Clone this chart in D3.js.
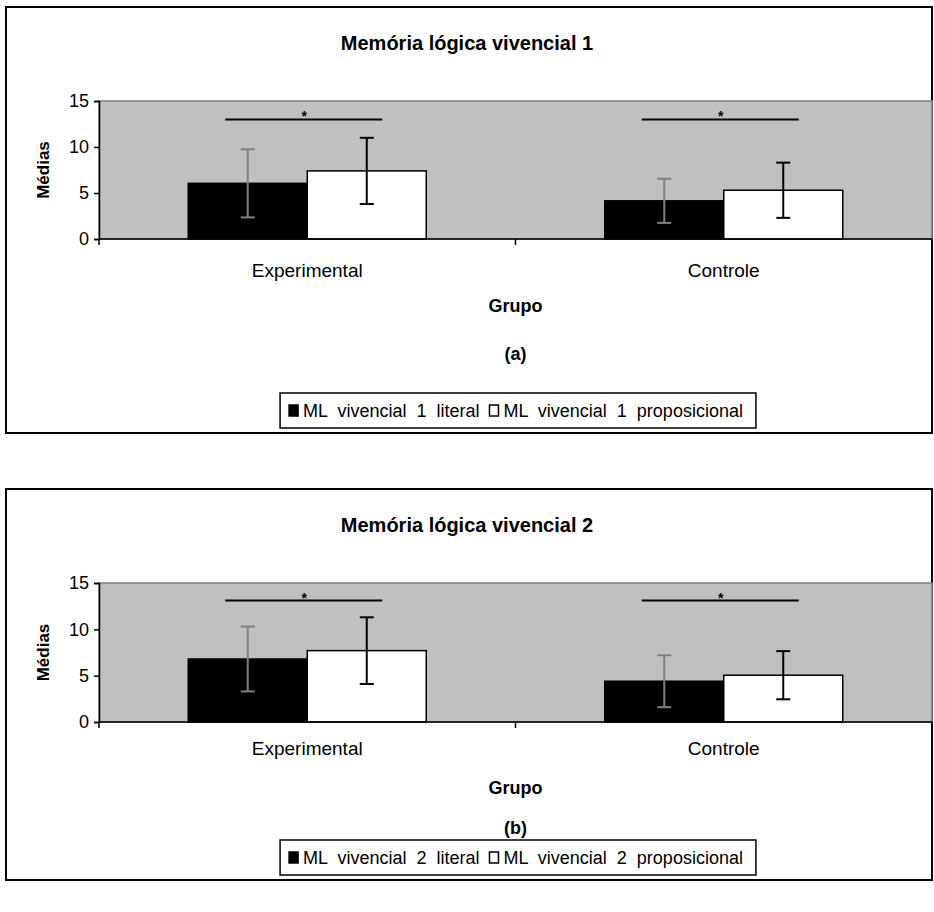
<!DOCTYPE html>
<html>
<head>
<meta charset="utf-8">
<script src="https://cdn.jsdelivr.net/npm/d3@7"></script>
<style>
  html, body { margin: 0; padding: 0; background: #fff; }
  svg { display: block; font-family: "Liberation Sans", Arial, sans-serif; }
</style>
</head>
<body>
<svg id="chart" width="934" height="912"></svg>
<script>
// Group categories and y-axis ticks shared by both panels
const categories = ["Experimental", "Controle"];
const yTicks = [0, 5, 10, 15];

// Panel (a): Memória lógica vivencial 1
const literal1 = [6.05, 4.15];
const literal1Sd = [3.7, 2.4];
const propos1 = [7.4, 5.3];
const propos1Sd = [3.6, 3.0];
const sig1 = [13, 13];

// Panel (b): Memória lógica vivencial 2
const literal2 = [6.8, 4.4];
const literal2Sd = [3.5, 2.8];
const propos2 = [7.7, 5.05];
const propos2Sd = [3.6, 2.6];
const sig2 = [13.1, 13.1];

const panels = [
  {
    title: "Memória lógica vivencial 1", tag: "(a)",
    names: ["ML vivencial 1 literal", "ML vivencial 1 proposicional"],
    values: [literal1, propos1], sds: [literal1Sd, propos1Sd], sig: sig1,
    box: [7, 433], plot: [101, 239], titleY: 50, tickY: 277, axisY: 312, tagY: 360, legY: 393
  },
  {
    title: "Memória lógica vivencial 2", tag: "(b)",
    names: ["ML vivencial 2 literal", "ML vivencial 2 proposicional"],
    values: [literal2, propos2], sds: [literal2Sd, propos2Sd], sig: sig2,
    box: [489, 880], plot: [583, 722], titleY: 532, tickY: 755, axisY: 794, tagY: 834, legY: 840
  }
];

const svg = d3.select("#chart");
const left = 99, right = 932;
const fills = ["#000000", "#ffffff"];
const errColors = ["#808080", "#000000"];

panels.forEach(p => {
  const g = svg.append("g");

  // outer frame
  g.append("rect")
    .attr("x", 6).attr("y", p.box[0])
    .attr("width", right - 6).attr("height", p.box[1] - p.box[0])
    .attr("fill", "#fff").attr("stroke", "#000").attr("stroke-width", 2);

  const x0 = d3.scaleBand().domain(categories).range([left, right]).padding(0);
  const bw = x0.bandwidth();
  const gap = bw * 1.5 / 3.5 / 2;
  const x1 = d3.scaleBand().domain([0, 1]).range([gap, bw - gap]).padding(0);
  const y = d3.scaleLinear().domain([0, 15]).range([p.plot[1], p.plot[0]]);

  // plot area
  g.append("rect")
    .attr("x", left).attr("y", y(15))
    .attr("width", right - left).attr("height", y(0) - y(15))
    .attr("fill", "#c0c0c0").attr("stroke", "#808080").attr("stroke-width", 1.5);

  // title
  g.append("text")
    .attr("x", 467).attr("y", p.titleY)
    .attr("text-anchor", "middle")
    .attr("font-size", 20).attr("font-weight", "bold")
    .text(p.title);

  // bars
  p.values.forEach((vals, s) => {
    g.selectAll(null).data(categories).enter().append("rect")
      .attr("x", c => x0(c) + x1(s))
      .attr("y", (c, i) => y(vals[i]))
      .attr("width", x1.bandwidth())
      .attr("height", (c, i) => y(0) - y(vals[i]))
      .attr("fill", fills[s]).attr("stroke", "#000").attr("stroke-width", 1.5);
  });

  // error bars
  p.values.forEach((vals, s) => {
    categories.forEach((c, i) => {
      const cx = x0(c) + x1(s) + x1.bandwidth() / 2;
      const lo = y(vals[i] - p.sds[s][i]);
      const hi = y(vals[i] + p.sds[s][i]);
      const eg = g.append("g").attr("stroke", errColors[s]).attr("stroke-width", 2);
      eg.append("line").attr("x1", cx).attr("x2", cx).attr("y1", lo).attr("y2", hi);
      eg.append("line").attr("x1", cx - 7).attr("x2", cx + 7).attr("y1", lo).attr("y2", lo);
      eg.append("line").attr("x1", cx - 7).attr("x2", cx + 7).attr("y1", hi).attr("y2", hi);
    });
  });

  // significance lines
  categories.forEach((c, i) => {
    const cx = x0(c) + bw / 2;
    g.append("line")
      .attr("x1", cx - 82).attr("x2", cx + 75)
      .attr("y1", y(p.sig[i])).attr("y2", y(p.sig[i]))
      .attr("stroke", "#000").attr("stroke-width", 2);
    g.append("text")
      .attr("x", cx - 3).attr("y", y(p.sig[i]) + 2)
      .attr("text-anchor", "middle").attr("font-size", 14).attr("font-weight", "bold")
      .text("*");
  });

  // y axis
  const yAxis = g.append("g")
    .attr("transform", `translate(${left},0)`)
    .call(d3.axisLeft(y).tickValues(yTicks).tickSize(5).tickPadding(5));
  yAxis.select(".domain").attr("stroke", "#000").attr("stroke-width", 1.5);
  yAxis.selectAll(".tick line").attr("stroke", "#000").attr("stroke-width", 1.5);
  yAxis.selectAll(".tick text")
    .attr("font-size", 18).attr("fill", "#000")
    .attr("font-family", "Liberation Sans, Arial, sans-serif");

  // x axis line with ticks at category boundaries
  const xb = g.append("g");
  xb.append("line").attr("x1", left).attr("x2", right)
    .attr("y1", y(0)).attr("y2", y(0)).attr("stroke", "#000").attr("stroke-width", 1.5);
  const bounds = categories.map(c => x0(c)).concat([x0(categories[1]) + bw]);
  xb.selectAll(null).data(bounds).enter().append("line")
    .attr("x1", d => d).attr("x2", d => d)
    .attr("y1", y(0)).attr("y2", y(0) + 6)
    .attr("stroke", "#000").attr("stroke-width", 1.5);
  xb.selectAll(null).data(categories).enter().append("text")
    .attr("x", c => x0(c) + bw / 2).attr("y", p.tickY)
    .attr("text-anchor", "middle").attr("font-size", 19)
    .text(c => c);

  // axis titles
  g.append("text")
    .attr("transform", `translate(${left - 50},${(y(0) + y(15)) / 2}) rotate(-90)`)
    .attr("text-anchor", "middle").attr("font-size", 17).attr("font-weight", "bold")
    .text("Médias");
  g.append("text")
    .attr("x", (left + right) / 2).attr("y", p.axisY)
    .attr("text-anchor", "middle").attr("font-size", 18).attr("font-weight", "bold")
    .text("Grupo");
  g.append("text")
    .attr("x", (left + right) / 2).attr("y", p.tagY)
    .attr("text-anchor", "middle").attr("font-size", 18).attr("font-weight", "bold")
    .text(p.tag);

  // legend
  const leg = g.append("g");
  const box = leg.append("rect")
    .attr("y", p.legY).attr("height", 35)
    .attr("fill", "#fff").attr("stroke", "#000").attr("stroke-width", 1.5);
  let cx = 0;
  const items = leg.append("g");
  p.names.forEach((name, s) => {
    items.append("rect")
      .attr("x", cx).attr("y", p.legY + 12)
      .attr("width", 9).attr("height", 11)
      .attr("fill", fills[s]).attr("stroke", "#000").attr("stroke-width", 1.5);
    const t = items.append("text")
      .attr("x", cx + 14).attr("y", p.legY + 24)
      .attr("font-size", 18).attr("word-spacing", 5)
      .text(name);
    cx += 14 + t.node().getComputedTextLength() + 10;
  });
  const total = cx - 10;
  const startX = 516 - total / 2;
  items.attr("transform", `translate(${startX},0)`);
  box.attr("x", startX - 9).attr("width", total + 22);
});
</script>
</body>
</html>
